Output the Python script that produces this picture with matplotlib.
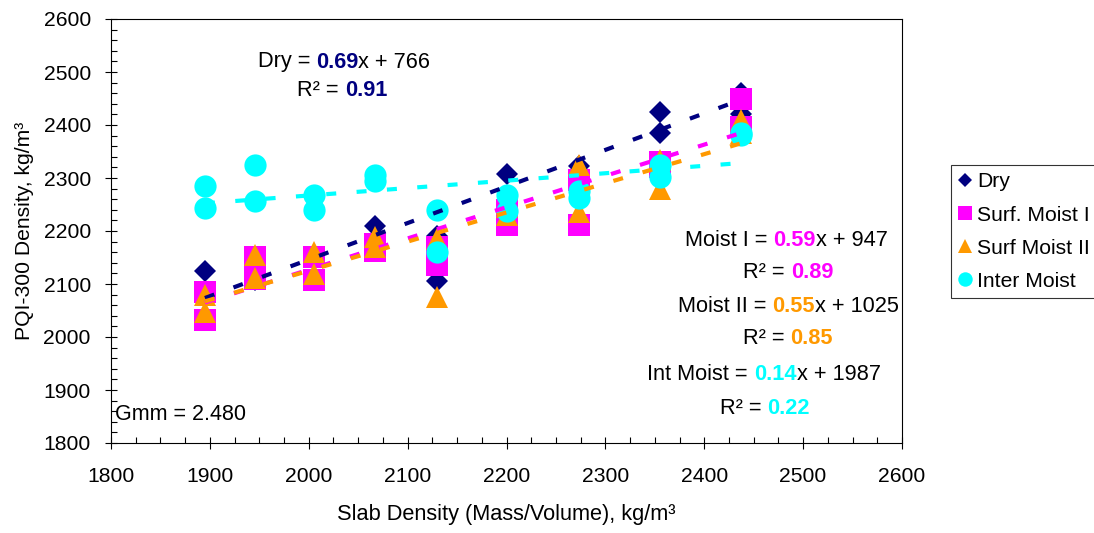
import matplotlib
matplotlib.use("Agg")
import matplotlib.pyplot as plt
from matplotlib.ticker import MultipleLocator
from matplotlib.offsetbox import TextArea, HPacker, AnnotationBbox
import numpy as np

plt.rcParams['font.family'] = ['Liberation Sans', 'DejaVu Sans']

# ---- data ----
slab_groups = [1895, 1946, 2005, 2067, 2130, 2200, 2273, 2355, 2437]
dry_y = [2124, 2078, 2108, 2150, 2155, 2110, 2209, 2175, 2190, 2106,
         2307, 2250, 2322, 2285, 2425, 2384, 2460, 2420]
moist1_y = [2085, 2033, 2151, 2110, 2151, 2108, 2175, 2162, 2170, 2136,
            2240, 2211, 2296, 2211, 2331, 2320, 2450, 2397]
moist2_y = [2079, 2047, 2155, 2112, 2160, 2118, 2189, 2170, 2185, 2076,
            2230, 2245, 2324, 2236, 2334, 2280, 2409, 2385]
inter_y = [2285, 2243, 2324, 2257, 2268, 2239, 2305, 2295, 2239, 2160,
           2268, 2238, 2275, 2263, 2324, 2302, 2381, 2385]

series_names = ["Dry", "Surf. Moist I", "Surf Moist II", "Inter Moist"]
slopes = [0.69, 0.59, 0.55, 0.14]
intercepts = [766, 947, 1025, 1987]
r2_vals = [0.91, 0.89, 0.85, 0.22]
eq_names = ["Dry", "Moist I", "Moist II", "Int Moist"]

x_ticks = [1800, 1900, 2000, 2100, 2200, 2300, 2400, 2500, 2600]
y_ticks = [1800, 1900, 2000, 2100, 2200, 2300, 2400, 2500, 2600]

colors = ["#000080", "#FF00FF", "#FF9900", "#00FFFF"]
markers = ["D", "s", "^", "o"]
msizes = [11.4, 15.8, 15.8, 16.0]

x_all = np.repeat(slab_groups, 2)
ys = [dry_y, moist1_y, moist2_y, inter_y]

W, H = 1094, 533
fig = plt.figure(figsize=(W / 100, H / 100), dpi=100)
ax = fig.add_axes([111 / W, 1 - 443 / H, (902 - 111) / W, (443 - 19) / H])

handles = []
for i in range(4):
    h, = ax.plot(x_all, ys[i], linestyle='none', marker=markers[i],
                 markersize=msizes[i], color=colors[i], markeredgewidth=0,
                 zorder=3 + 0.1 * i, label=series_names[i])
    handles.append(h)

for i in range(4):
    xs = np.array([min(x_all), max(x_all)])
    ax.plot(xs, slopes[i] * xs + intercepts[i], color=colors[i], lw=3.0,
            linestyle=(0, (2.4, 4.9)), solid_capstyle='butt',
            dash_capstyle='butt', zorder=5 + 0.1 * i)

ax.set_xlim(1800, 2600)
ax.set_ylim(1800, 2600)
ax.set_xticks(x_ticks)
ax.set_yticks(y_ticks)
ax.xaxis.set_minor_locator(MultipleLocator(25))
ax.yaxis.set_minor_locator(MultipleLocator(20))
ax.tick_params(which='major', direction='inout', length=9, width=0.8,
               labelsize=15.2)
ax.tick_params(axis='x', which='major', pad=13)
ax.tick_params(axis='y', which='major', pad=10)
ax.tick_params(which='minor', direction='in', length=4, width=0.8)
for s in ax.spines.values():
    s.set_linewidth(0.8)

ax.set_xlabel("Slab Density (Mass/Volume), kg/m³", fontsize=15.7, labelpad=13)
ax.set_ylabel("PQI-300 Density, kg/m³", fontsize=15.2, labelpad=7)

fig.text(115 / W, 1 - 415 / H, "Gmm = 2.480", fontsize=15.5, ha='left',
         va='center')

fs = 15.7

def equation(cx, cy, name, slope, icpt, col):
    parts = [TextArea(f"{name} = ", textprops=dict(fontsize=fs, color='black')),
             TextArea(f"{slope:.2f}", textprops=dict(fontsize=fs, color=col,
                                                     fontweight='bold')),
             TextArea(f"x + {icpt}", textprops=dict(fontsize=fs, color='black'))]
    box = HPacker(children=parts, align='baseline', pad=0, sep=0)
    ab = AnnotationBbox(box, (cx / W, 1 - cy / H), xycoords='figure fraction',
                        box_alignment=(0.5, 0.5), frameon=False, pad=0)
    fig.add_artist(ab)

def r2(cx, cy, val, col):
    parts = [TextArea("R² = ", textprops=dict(fontsize=fs, color='black')),
             TextArea(f"{val:.2f}", textprops=dict(fontsize=fs, color=col,
                                                   fontweight='bold'))]
    box = HPacker(children=parts, align='baseline', pad=0, sep=0)
    ab = AnnotationBbox(box, (cx / W, 1 - cy / H), xycoords='figure fraction',
                        box_alignment=(0.5, 0.5), frameon=False, pad=0)
    fig.add_artist(ab)

eq_pos = [(344, 62), (786, 241), (788, 307), (764, 375)]
r2_pos = [(342, 90), (788, 273), (788, 338), (765, 408)]
for i in range(4):
    equation(eq_pos[i][0], eq_pos[i][1], eq_names[i], slopes[i],
             intercepts[i], colors[i])
    r2(r2_pos[i][0], r2_pos[i][1], r2_vals[i], colors[i])

leg = fig.legend(handles=handles, loc='upper left',
                 bbox_to_anchor=(951 / W, 1 - 165 / H), fontsize=15.2,
                 frameon=True, fancybox=False, edgecolor='black',
                 markerscale=0.65, handlelength=0.6, handletextpad=0.3,
                 labelspacing=0.67, borderpad=0.35, borderaxespad=0)
leg.get_frame().set_linewidth(0.8)

fig.savefig("out.png", dpi=100)
